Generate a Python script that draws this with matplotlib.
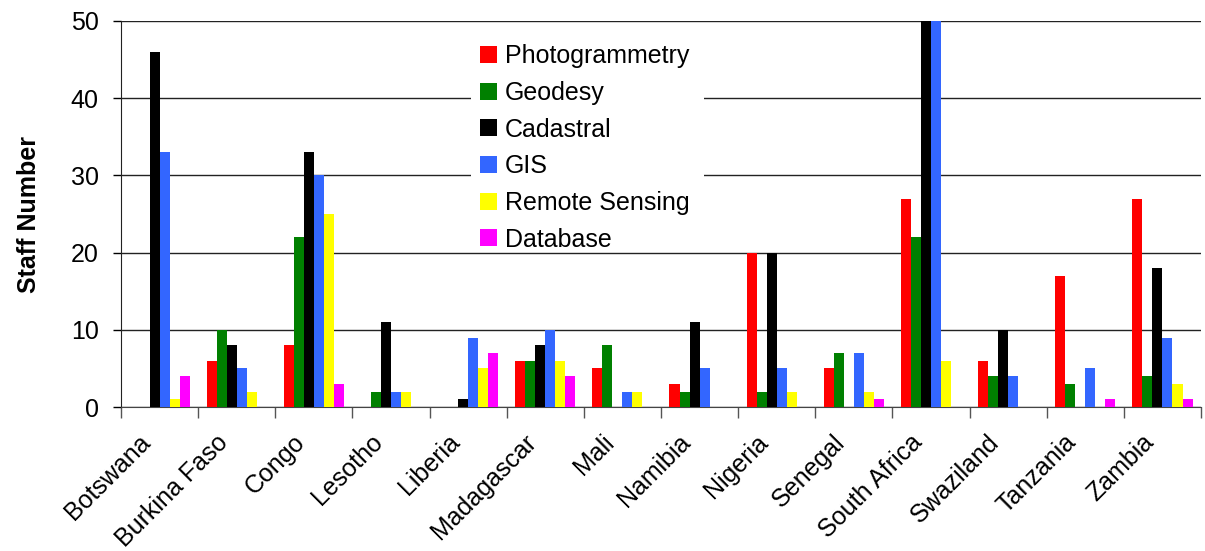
import numpy as np
import matplotlib
matplotlib.use("Agg")
import matplotlib.pyplot as plt
from matplotlib.patches import Rectangle
from matplotlib.transforms import ScaledTranslation

plt.rcParams['font.family'] = ['Liberation Sans', 'DejaVu Sans']

countries = ["Botswana", "Burkina Faso", "Congo", "Lesotho", "Liberia", "Madagascar",
             "Mali", "Namibia", "Nigeria", "Senegal", "South Africa", "Swaziland",
             "Tanzania", "Zambia"]
series = ["Photogrammetry", "Geodesy", "Cadastral", "GIS", "Remote Sensing", "Database"]
colors = ["#FF0000", "#008000", "#000000", "#3366FF", "#FFFF00", "#FF00FF"]

photogrammetry = [0, 6, 8, 0, 0, 6, 5, 3, 20, 5, 27, 6, 17, 27]
geodesy        = [0, 10, 22, 2, 0, 6, 8, 2, 2, 7, 22, 4, 3, 4]
cadastral      = [46, 8, 33, 11, 1, 8, 0, 11, 20, 0, 55, 10, 0, 18]
gis            = [33, 5, 30, 2, 9, 10, 2, 5, 5, 7, 55, 4, 5, 9]
remote_sensing = [1, 2, 25, 2, 5, 6, 2, 0, 2, 2, 6, 0, 0, 3]
database       = [4, 0, 3, 0, 7, 4, 0, 0, 0, 1, 0, 0, 1, 1]

values = [photogrammetry, geodesy, cadastral, gis, remote_sensing, database]

fig = plt.figure(figsize=(12.05, 5.51), dpi=100)
ax = fig.add_axes([0.1004, 0.2613, 0.8963, 0.7006])

x = np.arange(len(countries))
w = 0.13
for i, (name, vals, c) in enumerate(zip(series, values, colors)):
    ax.bar(x + (i - 2.5) * w, vals, width=w, color=c, label=name, zorder=3)

ax.set_xlim(-0.5, len(countries) - 0.5)
ax.set_ylim(0, 50)
ax.set_yticks([0, 10, 20, 30, 40, 50])
ax.yaxis.grid(True, color="#222222", linewidth=1, zorder=0)
ax.set_axisbelow(True)

# category labels, rotated; shifted down-left like the original
ax.set_xticks(x)
ax.set_xticklabels(countries, rotation=45, ha="right", rotation_mode="anchor", fontsize=18)
ax.tick_params(axis="x", which="major", length=0, pad=10)
shift = ScaledTranslation(-0.21, -0.09, fig.dpi_scale_trans)
for lab in ax.get_xticklabels():
    lab.set_transform(lab.get_transform() + shift)
ax.set_xticks(np.arange(-0.5, len(countries)), minor=True)
ax.tick_params(axis="x", which="minor", length=8, color="#555555", width=1)
ax.tick_params(axis="y", labelsize=18, length=6, width=1, direction="out", pad=10)

for s in ["top", "right"]:
    ax.spines[s].set_visible(False)
ax.spines["left"].set_color("#222222")
ax.spines["bottom"].set_color("#444444")

ax.set_ylabel("Staff Number", fontsize=18, fontweight="bold")
ax.yaxis.set_label_coords(-0.074, 0.5)

# white box behind legend (hides gridlines 30 and 40)
ax.add_patch(Rectangle((0.3244, 0.403), 0.215, 0.593, transform=ax.transAxes,
                       facecolor="white", edgecolor="none", zorder=4))
leg = ax.legend(loc="upper left", bbox_to_anchor=(0.3244, 0.962), borderaxespad=0,
                fontsize=18, frameon=False, handlelength=0.68, handleheight=0.68,
                handletextpad=0.3, labelspacing=0.505, borderpad=0.35)
leg.set_zorder(5)

fig.savefig("out.png", dpi=100)
